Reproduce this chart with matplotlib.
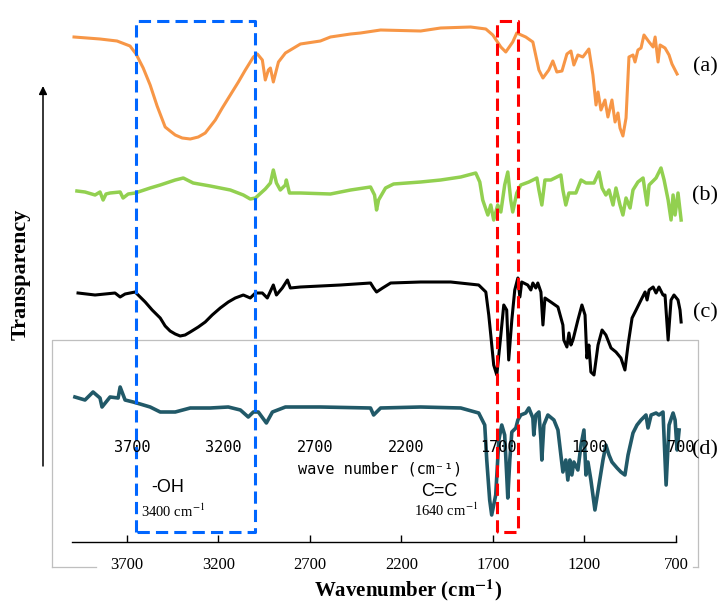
import matplotlib
matplotlib.use("Agg")
import matplotlib.pyplot as plt
import matplotlib.transforms as mtransforms

plt.rcParams["mathtext.fontset"] = "stix"

# ---- FTIR spectra (wavenumber in cm^-1, stacked transmittance in arbitrary units) ----
wn_a = [3989, 3847, 3754, 3683, 3650, 3611, 3573, 3535, 3491, 3464, 3436, 3398, 3354, 3310,
        3272, 3217, 3179, 3135, 3091, 3053, 3009,
        2987, 2960, 2944, 2927, 2916, 2900, 2872, 2834, 2752, 2643, 2588, 2478, 2424, 2314,
        2095, 1986, 1822, 1739, 1701, 1657, 1630, 1592, 1570, 1521, 1482, 1449, 1427, 1395,
        1373, 1351, 1323, 1296, 1274, 1258, 1236, 1209, 1176, 1154, 1137, 1126, 1110, 1088,
        1072, 1050, 1033, 1017, 1006, 990, 973, 957, 935, 924, 908, 891, 875, 847, 825, 814,
        798, 787, 760, 738, 722, 694]
tr_a = [505, 503, 501, 496, 488, 474, 457, 436, 415, 411, 407, 404, 403, 405,
        409, 422, 434, 447, 460, 472, 485,
        488, 482, 462, 472, 474, 460, 480, 489, 498, 501, 505, 508, 509, 512,
        511, 514, 515, 513, 507, 495, 490, 500, 509, 505, 500, 472, 464, 472,
        481, 470, 471, 488, 491, 477, 487, 485, 493, 467, 437, 450, 432, 442,
        425, 442, 420, 429, 414, 406, 424, 485, 487, 480, 492, 494, 507, 500, 495, 505,
        480, 497, 494, 487, 478, 468]

wn_b = [3973, 3929, 3874, 3847, 3830, 3814, 3792, 3737, 3721, 3693, 3655, 3573, 3518, 3436,
        3392, 3338, 3245, 3135, 3064, 3026, 2998, 2944, 2916, 2900, 2883, 2862, 2834, 2829,
        2812, 2752, 2588, 2478, 2369, 2347, 2336, 2325, 2287, 2243, 2095, 1986, 1876, 1794,
        1772, 1756, 1728, 1712, 1696, 1674, 1657, 1636, 1619, 1603, 1592, 1570, 1548, 1504,
        1460, 1449, 1433, 1416, 1384, 1329, 1318, 1302, 1285, 1247, 1219, 1192, 1148, 1121,
        1104, 1083, 1066, 1044, 1028, 1006, 990, 973, 951, 935, 908, 880, 858, 847, 809, 782,
        765, 743, 727, 716, 705, 689, 672]
tr_b = [351, 350, 347, 350, 342, 348, 349, 350, 344, 348, 349, 354, 357, 362,
        364, 359, 356, 352, 347, 343, 344, 353, 359, 372, 359, 352, 357, 362,
        349, 349, 348, 352, 355, 347, 332, 342, 354, 358, 360, 362, 365, 369,
        360, 342, 327, 337, 322, 337, 330, 357, 370, 342, 330, 349, 357, 360,
        364, 352, 337, 362, 362, 367, 352, 337, 349, 349, 362, 359, 359, 370,
        354, 347, 352, 337, 354, 337, 327, 344, 334, 352, 360, 364, 337, 357, 364, 374,
        362, 342, 322, 347, 327, 349, 322]

wn_c = [3967, 3874, 3765, 3737, 3710, 3655, 3600, 3562, 3518, 3491, 3464, 3436, 3409, 3382,
        3354, 3310, 3272, 3234, 3190, 3146, 3108,
        3064, 3026, 2998, 2960, 2933, 2900, 2883, 2851, 2823, 2807, 2752, 2533, 2369, 2352,
        2336, 2303, 2259, 2095, 1931, 1778, 1739, 1723, 1712, 1696, 1679, 1657, 1641, 1625,
        1614, 1597, 1581, 1564, 1553, 1543, 1510, 1493, 1482, 1466, 1455, 1438, 1427, 1416,
        1384, 1345, 1318, 1313, 1296, 1285, 1274, 1263, 1236, 1214, 1197, 1187, 1176, 1165,
        1148, 1126, 1104, 1083, 1055, 1028, 1001, 979, 962, 940, 918, 891, 869, 858, 847,
        825, 809, 793, 771, 760, 743, 727, 711, 689, 678, 672]
tr_c = [249, 247, 249, 245, 248, 250, 240, 232, 224, 216, 211, 208, 206, 207,
        210, 215, 220, 227, 234, 240, 244,
        247, 244, 249, 249, 244, 257, 247, 254, 262, 254, 255, 257, 259, 254,
        250, 254, 259, 260, 260, 257, 250, 227, 207, 177, 167, 207, 237, 232,
        182, 222, 252, 264, 245, 260, 257, 252, 259, 254, 259, 250, 217, 244,
        240, 235, 217, 202, 195, 209, 197, 202, 222, 237, 227, 184, 197, 170,
        167, 197, 212, 207, 194, 190, 184, 172, 197, 224, 232, 242, 250, 242, 252,
        255, 249, 255, 247, 247, 202, 242, 247, 242, 232, 220]

wn_d = [3984, 3929, 3885, 3847, 3836, 3792, 3748, 3737, 3710, 3666, 3628, 3573, 3518, 3436,
        3354, 3245, 3146, 3080, 3037, 3009, 2982, 2938, 2905, 2834, 2643, 2369, 2352, 2314,
        2095, 1876, 1778, 1745, 1734, 1718, 1707, 1685, 1668, 1652, 1636, 1625, 1619, 1608,
        1597, 1575, 1564, 1548, 1521, 1504, 1482, 1477, 1466, 1449, 1438, 1433, 1422, 1400,
        1367, 1345, 1329, 1318, 1302, 1291, 1280, 1269, 1258, 1236, 1219, 1203, 1192, 1181,
        1165, 1143, 1121, 1099, 1083, 1066, 1050, 1022, 1001, 979, 962, 935, 913, 891, 864,
        853, 836, 809, 793, 771, 754, 738, 716, 705, 694, 683]
tr_d = [145, 142, 150, 144, 135, 145, 144, 155, 142, 140, 138, 135, 130, 130,
        134, 134, 135, 132, 125, 130, 130, 119, 130, 135, 135, 134, 127, 134,
        135, 134, 129, 117, 82, 42, 27, 47, 102, 117, 107, 67, 44, 82,
        110, 114, 122, 127, 129, 134, 124, 107, 127, 130, 102, 82, 117, 127,
        122, 112, 87, 70, 82, 62, 82, 67, 80, 72, 97, 112, 67, 80,
        62, 32, 57, 82, 97, 87, 80, 74, 70, 67, 87, 109, 117, 122, 127,
        114, 127, 129, 127, 130, 57, 117, 129, 122, 92, 112]

spectra = [
    ("(a)", wn_a, tr_a, "#F79646", 2.2, 475),
    ("(b)", wn_b, tr_b, "#92D050", 2.5, 346),
    ("(c)", wn_c, tr_c, "#000000", 2.2, 229),
    ("(d)", wn_d, tr_d, "#215968", 2.6, 92),
]

ticks = [3700, 3200, 2700, 2200, 1700, 1200, 700]
oh_band = (3650, 3000)
cc_band = (1680, 1565)
box_bottom, box_top = 10, 521

W, H = 718, 606
fig = plt.figure(figsize=(W / 100, H / 100), dpi=100)
ax = fig.add_axes([72 / W, 64 / H, 604 / W, 542 / H])
ax.set_xlim(4000, 700)
ax.set_ylim(0, 542)
ax.patch.set_visible(False)
for side in ("left", "right", "top"):
    ax.spines[side].set_visible(False)
ax.spines["bottom"].set_linewidth(1.0)
ax.set_yticks([])
ax.set_xticks(ticks)
ax.set_xticklabels([str(t) for t in ticks])
ax.tick_params(axis="x", direction="in", length=5, width=1, pad=11,
               labelsize=12)
for lab in ax.get_xticklabels():
    lab.set_fontfamily("Liberation Serif")


# grey frame around the lower panel (sits behind the spectra)
def fig_line(xs, ys):
    ax.plot([x / W for x in xs], [1 - y / H for y in ys], color="#BFBFBF", lw=0.9,
            transform=fig.transFigure, clip_on=False, zorder=0.5)


fig_line([52, 52, 698, 698], [567, 340, 340, 567])
fig_line([52, 96], [567, 567])
fig_line([693, 698], [567, 567])

# spectra and their labels
for name, wn, tr, color, lw, ylab in spectra:
    ax.plot(wn, tr, color=color, lw=lw, clip_on=False, zorder=2,
            solid_joinstyle="round")
    ax.text(541, ylab, name, fontsize=16, family="Liberation Serif",
            ha="center", va="center", clip_on=False)

# highlighted bands
for (x0, x1), col in ((oh_band, "#0066FF"), (cc_band, "#FF0000")):
    ax.plot([x0, x0, x1, x1, x0], [box_bottom, box_top, box_top, box_bottom, box_bottom],
            color=col, lw=2.2, dashes=(4, 2), clip_on=False, zorder=4)

# secondary wavenumber scale of the lower panel
shift = mtransforms.ScaledTranslation(5 / 100, 0, fig.dpi_scale_trans)
for t in ticks:
    ax.text(t, 95, str(t), fontsize=11, family="DejaVu Sans Mono", ha="center",
            va="center", transform=ax.transData + shift, zorder=5)
ax.text(2314, 73, "wave number (cm\u207b\u00b9)", fontsize=11, family="DejaVu Sans Mono",
        ha="center", va="center", zorder=5)

# band annotations
ax.text(3475, 54, "-OH", fontsize=13, family="Liberation Sans", ha="center", va="center")
ax.text(3448, 31, r"3400 cm$^{-1}$", fontsize=10.5, family="Liberation Serif",
        ha="center", va="center")
ax.text(1991, 50, "C=C", fontsize=13, family="Liberation Sans", ha="center", va="center")
ax.text(1958, 32, r"1640 cm$^{-1}$", fontsize=10.5, family="Liberation Serif",
        ha="center", va="center")

# axis titles and transmittance arrow
fig.text(408 / W, 1 - 590 / H, r"Wavenumber (cm$^{\mathbf{-1}}$)", fontsize=15,
         fontweight="bold", family="Liberation Serif", ha="center", va="center")
fig.text(21 / W, 1 - 274 / H, "Transparency", fontsize=16, fontweight="bold",
         family="Liberation Serif", rotation=90, ha="center", va="center")
ax.annotate("", xy=(43 / W, 1 - 86 / H), xytext=(43 / W, 1 - 466 / H),
            xycoords="figure fraction", textcoords="figure fraction",
            arrowprops=dict(arrowstyle="-|>", color="black", lw=1.1,
                            mutation_scale=12, shrinkA=0, shrinkB=0))

fig.savefig("out.png", dpi=100)
